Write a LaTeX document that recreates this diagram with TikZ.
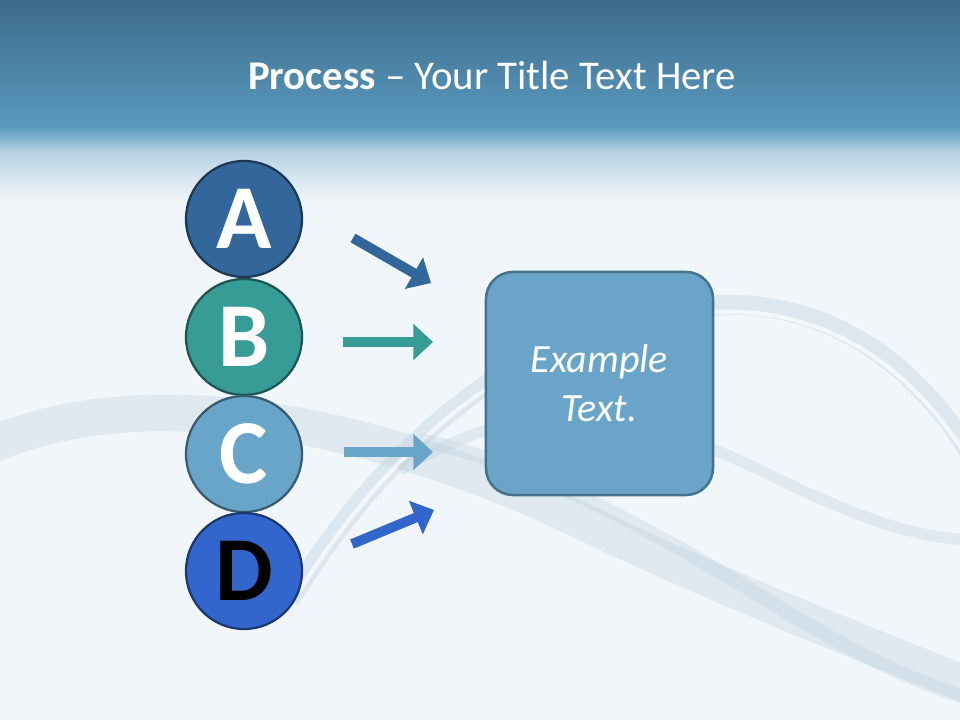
\documentclass[tikz,border=0pt]{standalone}
\usepackage{fontspec}
\setmainfont{Carlito}
\usetikzlibrary{arrows.meta}
\definecolor{headtop}{HTML}{3D6B89}
\definecolor{headbot}{HTML}{5A9AC0}
\definecolor{paper}{HTML}{F1F6FA}
\definecolor{swirl}{HTML}{B9CCDB}
\definecolor{colA}{HTML}{33669A}
\definecolor{colB}{HTML}{379B96}
\definecolor{colC}{HTML}{68A5C9}
\definecolor{colD}{HTML}{3366CC}
\definecolor{boxfill}{HTML}{6AA5C9}
\definecolor{boxline}{HTML}{45738F}
\begin{document}
\begin{tikzpicture}[x=0.025cm,y=-0.025cm,
	letter/.style={circle,draw=#1!55!black,line width=1.6pt,fill=#1,minimum size=2.9cm,inner sep=0pt,
		text=white,font=\fontsize{65}{65}\selectfont\bfseries},
	flow/.style={draw=#1,line width=7pt,-{Triangle[length=14pt,width=25pt,fill=#1]}}]
		% Background
		\fill[paper] (0,0) rectangle (960,720);
		\useasboundingbox (0,0) rectangle (960,720);

		% Swirls
		\draw[swirl,line width=26pt,opacity=0.3,line cap=round] (-20,450) .. controls (150,370) and (400,430) .. (600,530) .. controls (750,600) and (880,650) .. (980,690);
		\draw[swirl,line width=14pt,opacity=0.35] (290,600) .. controls (400,420) and (560,300) .. (740,305) .. controls (850,310) and (930,380) .. (980,470);
		\draw[white,line width=3pt,opacity=0.7] (300,590) .. controls (410,415) and (565,305) .. (740,312) .. controls (850,317) and (925,385) .. (975,470);
		\draw[swirl,line width=10pt,opacity=0.3] (420,440) .. controls (560,470) and (700,560) .. (800,620) .. controls (870,660) and (930,690) .. (980,700);
		\draw[swirl,line width=8pt,opacity=0.3] (400,470) .. controls (550,380) and (650,420) .. (760,470) .. controls (860,520) and (920,540) .. (980,540);

		% Header band
		\shade[top color=headtop,bottom color=headbot] (0,0) rectangle (960,128);
		\shade[top color=headbot,bottom color=headbot!40!paper] (0,127) rectangle (960,152);
		\shade[top color=headbot!40!paper,bottom color=paper] (0,151) rectangle (960,200);

		% Title
		\node[text=white,font=\fontsize{29}{29}\selectfont] (title) at (492,75) {\textbf{Process} -- Your Title Text Here};

		% Letter circles
		\node[letter=colA] (A) at (244,219) {A};
		\node[letter=colB] (B) at (244,337) {B};
		\node[letter=colC] (C) at (244,454) {C};
		\node[letter=colD,text=black] (D) at (244,571) {D};

		% Example box
		\node[draw=boxline,line width=1.8pt,fill=boxfill,rounded corners=0.675cm,minimum width=5.675cm,minimum height=5.575cm,
			align=center,text=white,font=\fontsize{28.5}{35}\selectfont\itshape] (box) at (599.5,383.5) {Example\\Text.};

		% Arrows
		\coordinate (a0) at (353,238);
		\coordinate (a1) at (431,283);
		\coordinate (b0) at (343,342);
		\coordinate (b1) at (433,342);
		\coordinate (c0) at (344,452);
		\coordinate (c1) at (433,452);
		\coordinate (d0) at (352,544);
		\coordinate (d1) at (434,510);
		\draw[flow=colA] (a0) -- (a1);
		\draw[flow=colB] (b0) -- (b1);
		\draw[flow=colC] (c0) -- (c1);
		\draw[flow=colD] (d0) -- (d1);
	\end{tikzpicture}
\end{document}
